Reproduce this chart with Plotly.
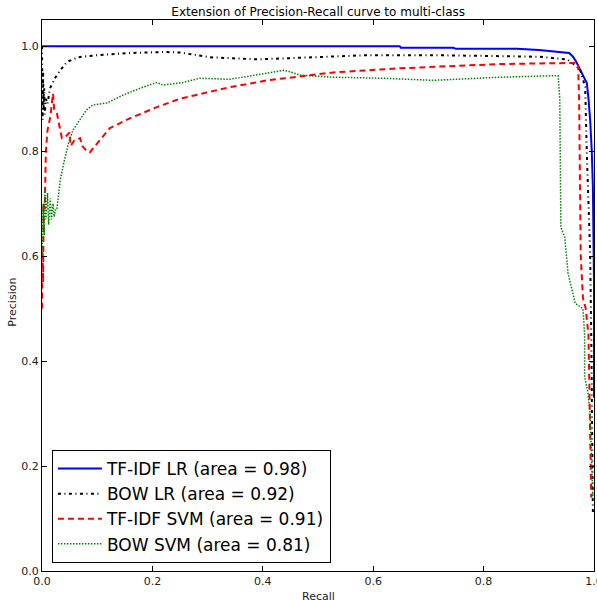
import plotly.graph_objects as go

# ---- data ----
tfidf_lr_recall = [0.0, 0.2, 0.4, 0.648, 0.65, 0.745, 0.75, 0.86, 0.9, 0.93, 0.955, 0.962,
                   0.968, 0.975, 0.982, 0.987, 0.99, 0.993, 0.996, 0.998, 1.0, 1.0]
tfidf_lr_precision = [1.0, 1.0, 1.0, 1.0, 0.997, 0.997, 0.995, 0.995, 0.993, 0.99, 0.987, 0.98,
                      0.97, 0.955, 0.94, 0.93, 0.9, 0.86, 0.8, 0.73, 0.55, 0.33]

bow_lr_recall = [0.0, 0.001, 0.002, 0.003, 0.004, 0.005, 0.007, 0.01, 0.0145, 0.024, 0.033,
                 0.045, 0.065, 0.1, 0.16, 0.22, 0.25, 0.304, 0.346, 0.39, 0.467, 0.59, 0.71,
                 0.83, 0.9, 0.951, 0.965, 0.975, 0.984, 0.987, 0.993, 0.995, 0.997, 0.998]
bow_lr_precision = [1.0, 0.86, 0.95, 0.88, 0.92, 0.87, 0.9, 0.89, 0.92, 0.94, 0.954,
                    0.97, 0.979, 0.983, 0.987, 0.989, 0.988, 0.979, 0.977, 0.975, 0.978, 0.983, 0.983,
                    0.981, 0.98, 0.975, 0.965, 0.955, 0.922, 0.796, 0.606, 0.45, 0.25, 0.11]

tfidf_svm_recall = [0.0, 0.001, 0.002, 0.003, 0.005, 0.007, 0.01, 0.015, 0.02, 0.022, 0.027,
                    0.033, 0.036, 0.045, 0.05, 0.052, 0.058, 0.069, 0.073, 0.083, 0.087, 0.1,
                    0.123, 0.16, 0.208, 0.25, 0.3, 0.34, 0.408, 0.527, 0.648, 0.83, 0.95, 0.971,
                    0.973, 0.974, 0.976, 0.98, 0.985, 0.99, 0.992, 0.995]
tfidf_svm_precision = [0.5, 0.62, 0.55, 0.7, 0.69, 0.8, 0.84, 0.865, 0.91, 0.88, 0.872,
                       0.84, 0.825, 0.83, 0.836, 0.81, 0.82, 0.825, 0.81, 0.798, 0.798, 0.815,
                       0.844, 0.863, 0.884, 0.9, 0.912, 0.922, 0.935, 0.95, 0.958, 0.966, 0.968, 0.968,
                       0.9, 0.75, 0.6, 0.52, 0.5, 0.45, 0.3, 0.14]

bow_svm_recall = [0.0, 0.002, 0.004, 0.005, 0.007, 0.01, 0.012, 0.015, 0.017, 0.02, 0.022,
                  0.025, 0.027, 0.033, 0.04, 0.048, 0.056, 0.069, 0.08, 0.092, 0.118, 0.147,
                  0.178, 0.208, 0.219, 0.256, 0.286, 0.34, 0.437, 0.447, 0.467, 0.527, 0.618,
                  0.708, 0.83, 0.935, 0.938, 0.94, 0.947, 0.953, 0.966, 0.98, 0.983, 0.983,
                  0.989, 0.993, 0.996, 0.998]
bow_svm_precision = [0.6, 0.7, 0.64, 0.73, 0.67, 0.72, 0.66, 0.71, 0.67, 0.7, 0.675,
                     0.69, 0.69, 0.745, 0.78, 0.815, 0.84, 0.86, 0.878, 0.888, 0.892, 0.907,
                     0.92, 0.931, 0.926, 0.931, 0.939, 0.937, 0.954, 0.952, 0.945, 0.941, 0.939,
                     0.935, 0.941, 0.944, 0.9, 0.655, 0.636, 0.567, 0.51, 0.5, 0.45, 0.37,
                     0.34, 0.3, 0.2, 0.135]

series_names = ["TF-IDF LR (area = 0.98)", "BOW LR (area = 0.92)",
                "TF-IDF SVM (area = 0.91)", "BOW SVM (area = 0.81)"]
tick_vals = [0.0, 0.2, 0.4, 0.6, 0.8, 1.0]
tick_text = ["0.0", "0.2", "0.4", "0.6", "0.8", "1.0"]

FONT = "DejaVu Sans"

fig = go.Figure()
fig.add_trace(go.Scatter(x=tfidf_lr_recall, y=tfidf_lr_precision, mode="lines",
                         name=series_names[0], line=dict(color="#0000ff", width=2)))
fig.add_trace(go.Scatter(x=bow_lr_recall, y=bow_lr_precision, mode="lines",
                         name=series_names[1],
                         line=dict(color="#000000", width=2, dash="3px,3.5px,1px,3.5px")))
fig.add_trace(go.Scatter(x=tfidf_svm_recall, y=tfidf_svm_precision, mode="lines",
                         name=series_names[2],
                         line=dict(color="#ff0000", width=2, dash="6px,4px")))
fig.add_trace(go.Scatter(x=bow_svm_recall, y=bow_svm_precision, mode="lines",
                         name=series_names[3],
                         line=dict(color="#008000", width=1.5, dash="1.5px,1.5px")))

axis_common = dict(showline=True, linecolor="black", linewidth=1, mirror="ticks",
                   ticks="inside", ticklen=5, tickcolor="black", showgrid=False,
                   zeroline=False, tickvals=tick_vals, ticktext=tick_text,
                   tickfont=dict(family=FONT, size=11, color="#222222"),
                   automargin=False, ticklabeloverflow="allow")

fig.update_layout(
    width=597, height=600,
    margin=dict(l=42, r=3, t=20, b=29),
    paper_bgcolor="white", plot_bgcolor="white",
    font=dict(family=FONT, color="black"),
    title=dict(text="Extension of Precision-Recall curve to multi-class",
               x=0.533, xanchor="center", y=0.98, yanchor="middle", yref="container",
               font=dict(family=FONT, size=12, color="black")),
    xaxis=dict(range=[0, 1.0], **axis_common),
    yaxis=dict(range=[0, 1.05], **axis_common),
    legend=dict(x=0.018, y=0.0145, xanchor="left", yanchor="bottom",
                bgcolor="white", bordercolor="black", borderwidth=1,
                font=dict(family=FONT, size=17, color="black"),
                itemwidth=44),
    showlegend=True,
    annotations=[
        dict(text="Recall", xref="paper", yref="paper", x=0.5, y=-0.0454,
             xanchor="center", yanchor="middle", showarrow=False,
             font=dict(family=FONT, size=11, color="#222222")),
        dict(text="Precision", xref="paper", yref="paper", x=-0.0525, y=0.487,
             xanchor="center", yanchor="middle", showarrow=False, textangle=-90,
             font=dict(family=FONT, size=11, color="#222222")),
    ],
)

fig.write_html("out.html", config={"displayModeBar": False},
               post_script="document.body.style.margin='0';document.body.style.padding='0';")
